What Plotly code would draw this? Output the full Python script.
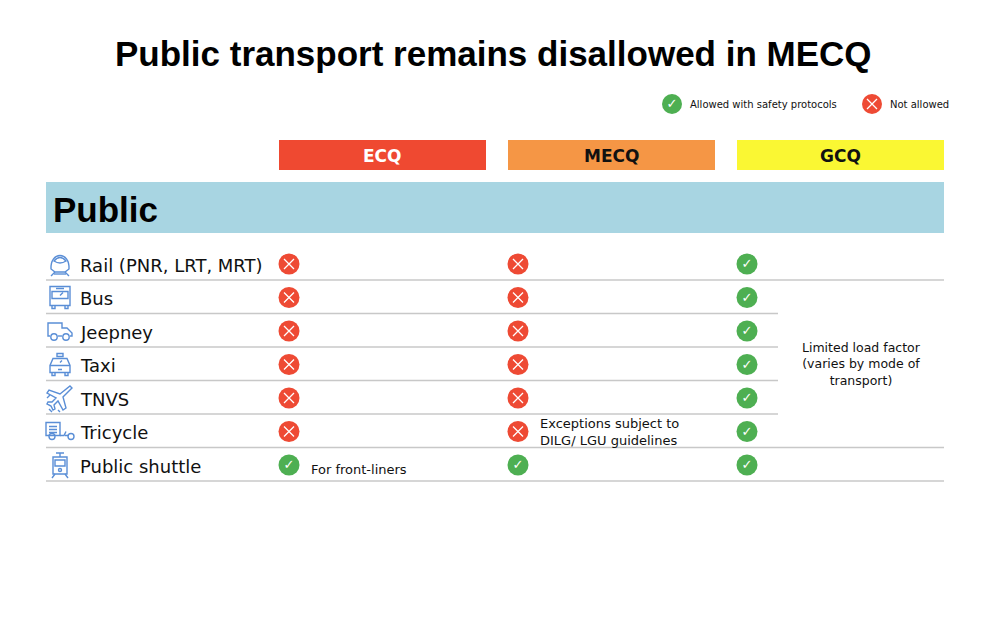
import plotly.graph_objects as go

# data
title = "Public transport remains disallowed in MECQ"
section = "Public"
modes = ["Rail (PNR, LRT, MRT)", "Bus", "Jeepney", "Taxi", "TNVS", "Tricycle", "Public shuttle"]
icons = ["rail", "bus", "jeepney", "taxi", "tnvs", "tricycle", "shuttle"]
phases = ["ECQ", "MECQ", "GCQ"]
phase_colors = ["#EF4931", "#F59645", "#FAF733"]
phase_text_colors = ["white", "#111111", "#111111"]
# 1 = allowed with safety protocols, 0 = not allowed
ecq = [0, 0, 0, 0, 0, 0, 1]
mecq = [0, 0, 0, 0, 0, 0, 1]
gcq = [1, 1, 1, 1, 1, 1, 1]
notes = [
    ("ECQ", 6, "For front-liners"),
    ("MECQ", 5, "Exceptions subject to<br>DILG/ LGU guidelines"),
]
gcq_note = "Limited load factor<br>(varies by mode of<br>transport)"
legend_labels = ["Allowed with safety protocols", "Not allowed"]

GREEN = "#4EAF52"
RED = "#EE4A34"
ICON = "#5A8ED6"
SEP = "#C8C8C8"

W, H = 989, 630
PAD = 8  # page body margin
LEFT, RIGHT = 46, 944
ROW_Y0, ROW_H = 264, 33.5
COL_X = [289, 518, 747]
BAR_W = 207

row_y = [ROW_Y0 + i * ROW_H for i in range(len(modes))]
status = dict(zip(phases, [ecq, mecq, gcq]))

fig = go.Figure()
shapes = []
ann = []

# title
ann.append(dict(x=W / 2 - 1, y=53, text=f"<b>{title}</b>", showarrow=False,
                font=dict(family="Liberation Sans", size=35, color="black")))

# phase header bars
for i, p in enumerate(phases):
    x0 = COL_X[i] - 10
    shapes.append(dict(type="rect", x0=x0, x1=x0 + BAR_W, y0=140, y1=170,
                       fillcolor=phase_colors[i], line=dict(width=0), layer="below"))
    ann.append(dict(x=x0 + BAR_W / 2, y=156, text=f"<b>{p}</b>", showarrow=False,
                    font=dict(family="DejaVu Sans", size=17, color=phase_text_colors[i])))

# section band
shapes.append(dict(type="rect", x0=LEFT, x1=RIGHT, y0=182, y1=233,
                   fillcolor="#A8D5E2", line=dict(width=0), layer="below"))
ann.append(dict(x=51, y=209, text=f"<b>{section}</b>", showarrow=False, xanchor="left",
                font=dict(family="Liberation Sans", size=35, color="black")))

# row separators
short_rows = [1, 2, 3, 4]
for i, y in enumerate(row_y):
    x1 = 778 if i in short_rows else RIGHT
    shapes.append(dict(type="line", x0=LEFT, x1=x1, y0=y + 16, y1=y + 16,
                       line=dict(color=SEP, width=1.5), layer="below"))

# row labels
for i, m in enumerate(modes):
    ann.append(dict(x=78, y=row_y[i] + 1, text=m, showarrow=False, xanchor="left",
                    font=dict(family="DejaVu Sans", size=18, color="#111111")))


# simple outline icons
def icon_paths(kind, cx, cy):
    def P(pts):
        return " ".join(f"{c}{cx + dx:.1f},{cy + dy:.1f}" for c, dx, dy in pts)

    out = []
    if kind == "rail":
        out.append(P([("M", -9, 5), ("C", -10, -13), ("", 10, -13), ("", 9, 5),
                      ("L", 5, 8), ("L", -5, 8), ("L", -9, 5)]) + " Z")
        out.append(P([("M", -6, -3), ("Q", 0, -10), ("", 6, -3), ("Q", 0, 1), ("", -6, -3)]) + " Z")
        out.append(P([("M", -5, 8), ("L", -9, 12), ("M", 5, 8), ("L", 9, 12)]))
        out.append(P([("M", -6, 10), ("L", 6, 10)]))
    elif kind == "bus":
        out.append(P([("M", -10, -11), ("L", 10, -11), ("L", 10, 8), ("L", -10, 8)]) + " Z")
        out.append(P([("M", -8, -6), ("L", 8, -6), ("L", 8, 1), ("L", -8, 1)]) + " Z")
        out.append(P([("M", -4, -9), ("L", 4, -9), ("M", 0, -2), ("L", 3, -5)]))
        out.append(P([("M", -8, 8), ("L", -8, 11), ("L", -5, 11), ("L", -5, 8),
                      ("M", 5, 8), ("L", 5, 11), ("L", 8, 11), ("L", 8, 8)]))
    elif kind == "jeepney":
        out.append(P([("M", -10, 5), ("L", -12, 5), ("L", -12, -8), ("L", 2, -8), ("L", 2, -3),
                      ("L", 7, -3), ("L", 12, 2), ("L", 12, 5), ("L", 10, 5)]))
        out.append(P([("M", -2, 5), ("L", 2, 5)]))
    elif kind == "taxi":
        out.append(P([("M", -3, -11), ("L", 3, -11), ("L", 3, -8), ("L", -3, -8)]) + " Z")
        out.append(P([("M", -10, 8), ("L", -10, 1), ("L", -7, -6), ("L", 7, -6), ("L", 10, 1),
                      ("L", 10, 8)]) + " Z")
        out.append(P([("M", -10, 1), ("L", 10, 1), ("M", -2, 5), ("L", 2, 5), ("M", 0, -2), ("L", 2, -4)]))
        out.append(P([("M", -8, 8), ("L", -8, 11), ("L", -5, 11), ("L", -5, 8),
                      ("M", 5, 8), ("L", 5, 11), ("L", 8, 11), ("L", 8, 8)]))
    elif kind == "tnvs":
        out.append(P([("M", 10, -12), ("L", 12, -10), ("L", 3, -1), ("L", 6, 10), ("L", 3, 12),
                      ("L", -2, 3), ("L", -6, 7), ("L", -5, 11), ("L", -7, 12), ("L", -9, 8),
                      ("L", -13, 6), ("L", -12, 4), ("L", -8, 4), ("L", -4, 0), ("L", -13, -5),
                      ("L", -11, -8), ("L", 0, -4)]) + " Z")
        out.append(P([("M", -13, 0), ("L", -10, -3), ("M", -11, 11), ("L", -8, 14),
                      ("M", -2, 12), ("L", 0, 14)]))
    elif kind == "tricycle":
        out.append(P([("M", -14, 4), ("L", -14, -9), ("L", 0, -9), ("L", 0, 4)]) + " Z")
        out.append(P([("M", -11, -5), ("L", -3, -5), ("M", -11, -2), ("L", -3, -2),
                      ("M", -11, 1), ("L", -3, 1)]))
        out.append(P([("M", 0, 4), ("L", 4, 4), ("L", 6, 0), ("M", 5, 4), ("L", 9, 4)]))
    elif kind == "shuttle":
        out.append(P([("M", -7, -8), ("L", 7, -8), ("L", 7, 9), ("L", -7, 9)]) + " Z")
        out.append(P([("M", -5, -5), ("L", 5, -5), ("L", 5, 1), ("L", -5, 1)]) + " Z")
        out.append(P([("M", -4, -12), ("L", 4, -12), ("M", 0, -12), ("L", 0, -8)]))
        out.append(P([("M", -5, 9), ("L", -8, 13), ("M", 5, 9), ("L", 8, 13)]))
    return out


def icon_circles(kind, cx, cy):
    if kind == "jeepney":
        return [(cx - 6, cy + 6, 3.2), (cx + 6, cy + 6, 3.2)]
    if kind == "tricycle":
        return [(cx - 8, cy + 5, 3), (cx + 11, cy + 5, 3)]
    if kind == "shuttle":
        return [(cx, cy + 5, 1.5)]
    return []


for i, k in enumerate(icons):
    cx, cy = 60, row_y[i]
    for p in icon_paths(k, cx, cy):
        shapes.append(dict(type="path", path=p, line=dict(color=ICON, width=1.4)))
    for x, y, r in icon_circles(k, cx, cy):
        shapes.append(dict(type="circle", x0=x - r, x1=x + r, y0=y - r, y1=y + r,
                           line=dict(color=ICON, width=1.4)))

# status markers
for ci, p in enumerate(phases):
    vals = status[p]
    fig.add_trace(go.Scatter(
        x=[COL_X[ci]] * len(vals), y=row_y, mode="markers",
        marker=dict(size=21, color=[GREEN if v else RED for v in vals], line=dict(width=0)),
        hoverinfo="skip", showlegend=False))
    yes = [row_y[j] for j, v in enumerate(vals) if v]
    no = [row_y[j] for j, v in enumerate(vals) if not v]
    fig.add_trace(go.Scatter(
        x=[COL_X[ci]] * len(no), y=no, mode="markers",
        marker=dict(symbol="x-thin", size=10, line=dict(color="white", width=1.3)),
        hoverinfo="skip", showlegend=False))
    fig.add_trace(go.Scatter(
        x=[COL_X[ci]] * len(yes), y=[y + 1 for y in yes], mode="text", text=["✓"] * len(yes),
        textfont=dict(family="DejaVu Sans", size=13, color="white"),
        hoverinfo="skip", showlegend=False))

# notes
for p, r, t in notes:
    ci = phases.index(p)
    ann.append(dict(x=COL_X[ci] + 20, y=row_y[r] + (4 if "<br>" not in t else 0), text=t,
                    showarrow=False, xanchor="left", align="left",
                    font=dict(family="DejaVu Sans", size=13, color="#111111")))
ann.append(dict(x=861, y=364, text=gcq_note, showarrow=False, align="center",
                font=dict(family="DejaVu Sans", size=12.5, color="#111111")))

# legend
LEG_Y = 104
leg_x = [672, 872]
fig.add_trace(go.Scatter(x=leg_x, y=[LEG_Y, LEG_Y], mode="markers",
                         marker=dict(size=20, color=[GREEN, RED], line=dict(width=0)),
                         hoverinfo="skip", showlegend=False))
fig.add_trace(go.Scatter(x=[leg_x[1]], y=[LEG_Y], mode="markers",
                         marker=dict(symbol="x-thin", size=10, line=dict(color="white", width=1.3)),
                         hoverinfo="skip", showlegend=False))
fig.add_trace(go.Scatter(x=[leg_x[0]], y=[LEG_Y + 1], mode="text", text=["✓"],
                         textfont=dict(family="DejaVu Sans", size=13, color="white"),
                         hoverinfo="skip", showlegend=False))
for x, t in zip(leg_x, legend_labels):
    ann.append(dict(x=x + 16, y=LEG_Y, text=t, showarrow=False, xanchor="left",
                    font=dict(family="DejaVu Sans", size=10, color="#111111")))

fig.update_layout(
    width=W - 2 * PAD, height=H - 2 * PAD,
    margin=dict(l=0, r=0, t=0, b=0),
    xaxis=dict(range=[PAD, W - PAD], visible=False, fixedrange=True),
    yaxis=dict(range=[H - PAD, PAD], visible=False, fixedrange=True),
    shapes=shapes,
    annotations=ann,
    plot_bgcolor="white",
    paper_bgcolor="white",
    showlegend=False,
)
fig.write_html("out.html", config=dict(displayModeBar=False))
